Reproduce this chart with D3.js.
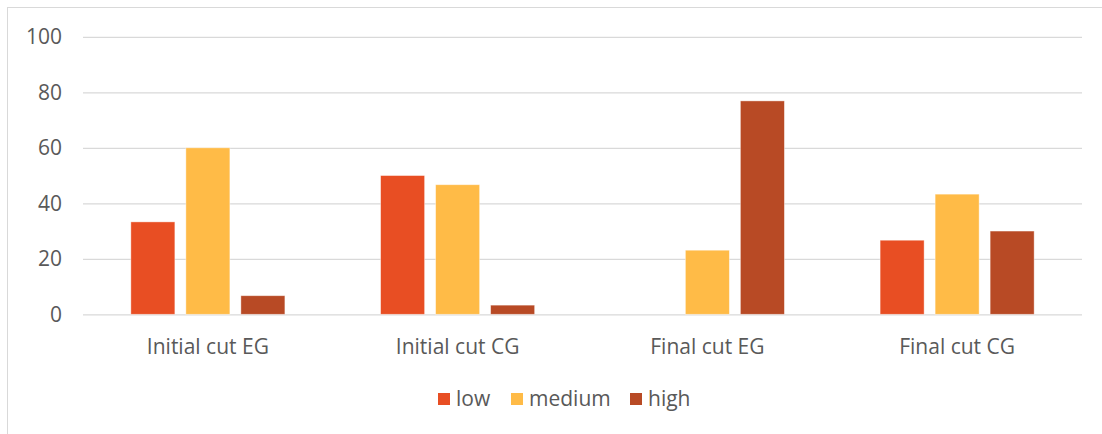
<!DOCTYPE html>
<html>
<head>
<meta charset="utf-8">
<script src="https://cdn.jsdelivr.net/npm/d3@7"></script>
<style>
  html, body { margin: 0; padding: 0; background: #fff; }
  svg { display: block; }
</style>
</head>
<body>
<svg id="chart" width="1102" height="434"></svg>
<script>
// Categories, series and tick values
const categories = ["Initial cut EG", "Initial cut CG", "Final cut EG", "Final cut CG"];
const seriesNames = ["low", "medium", "high"];
const lowValues = [33.3, 50, 0, 26.7];
const mediumValues = [60, 46.7, 23.1, 43.3];
const highValues = [6.7, 3.3, 76.9, 30];
const yTicks = [0, 20, 40, 60, 80, 100];
const seriesColors = ["#E84E23", "#FFBB47", "#B84A25"];

const seriesValues = [lowValues, mediumValues, highValues];
const rows = categories.map((c, i) => ({
  category: c,
  values: seriesNames.map((s, j) => ({ series: s, value: seriesValues[j][i] }))
}));

const svg = d3.select("#chart");
const font = "'Open Sans', 'Noto Sans', sans-serif";
const fontSize = 21;
const textColor = "#595959";

// Outer chart frame
svg.append("rect")
  .attr("x", 7.5).attr("y", 7.5)
  .attr("width", 1200).attr("height", 600)
  .attr("fill", "none").attr("stroke", "#D9D9D9").attr("stroke-width", 1);

const plot = { left: 83, right: 1082, top: 36.8, bottom: 314.3 };

const x = d3.scaleBand().domain(categories).range([plot.left, plot.right]).paddingInner(0).paddingOuter(0);
const xInner = d3.scaleBand().domain(seriesNames).range([0, x.bandwidth()]).paddingInner(0.2).paddingOuter(0.87);
const y = d3.scaleLinear().domain([0, 100]).range([plot.bottom, plot.top]);

// Gridlines and value labels
const yAxis = d3.axisLeft(y).tickValues(yTicks).tickSize(-(plot.right - plot.left));
const gy = svg.append("g").attr("transform", `translate(${plot.left},0)`).call(yAxis);
gy.select(".domain").remove();
gy.selectAll(".tick line").attr("stroke", "#D9D9D9").attr("stroke-width", 1.2);
gy.selectAll(".tick text")
  .attr("fill", textColor).attr("font-family", font).attr("font-size", fontSize)
  .attr("x", -21).attr("dy", "0.34em");

// Bars
const groups = svg.append("g").selectAll("g").data(rows).join("g")
  .attr("transform", d => `translate(${x(d.category)},0)`);
groups.selectAll("rect").data(d => d.values).join("rect")
  .attr("x", d => xInner(d.series))
  .attr("width", xInner.bandwidth())
  .attr("y", d => y(d.value))
  .attr("height", d => y(0) - y(d.value))
  .attr("fill", (d, i) => seriesColors[i])
  .attr("stroke", "#fff").attr("stroke-opacity", 0.5).attr("stroke-width", 0.8);

// Category labels
const xAxis = d3.axisBottom(x).tickSize(0);
const gx = svg.append("g").attr("transform", `translate(0,${plot.bottom})`).call(xAxis);
gx.select(".domain").remove();
gx.selectAll(".tick text")
  .attr("fill", textColor).attr("font-family", font).attr("font-size", fontSize)
  .attr("y", 40).attr("dy", 0);

// Legend
const legendX = [438, 511, 630];
const legend = svg.append("g").selectAll("g").data(seriesNames).join("g")
  .attr("transform", (d, i) => `translate(${legendX[i]},393)`);
legend.append("rect").attr("width", 12).attr("height", 12)
  .attr("fill", (d, i) => seriesColors[i]);
legend.append("text").attr("x", 18).attr("y", 13)
  .attr("fill", textColor).attr("font-family", font).attr("font-size", fontSize)
  .text(d => d);
</script>
</body>
</html>
